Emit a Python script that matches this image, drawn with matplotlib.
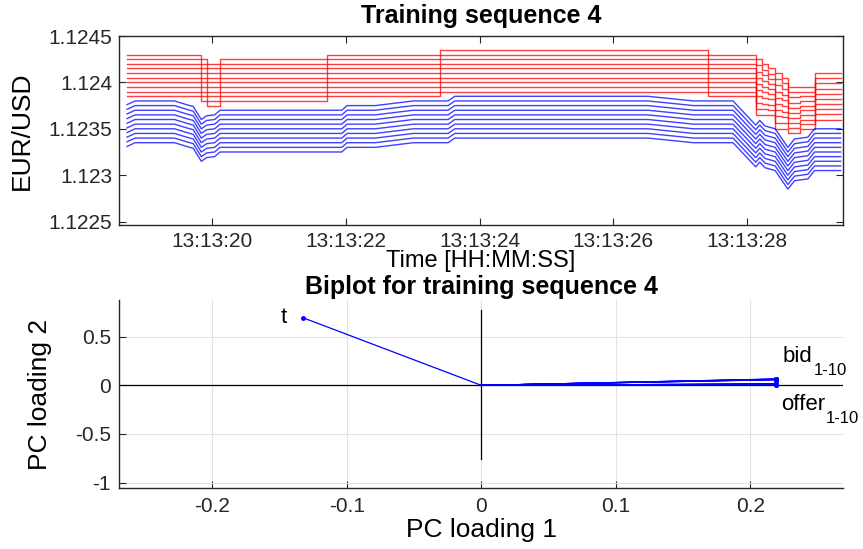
import numpy as np
import matplotlib
matplotlib.use('Agg')
import matplotlib.pyplot as plt

plt.rcParams['font.family'] = ['Liberation Sans', 'DejaVu Sans']
plt.rcParams['axes.unicode_minus'] = False

# ---------------- top panel data (time = seconds after 13:13:00) ----------------
offer_t = [18.73, 19.84, 19.93, 20.12, 21.72, 23.41, 27.41, 28.13, 28.22, 28.32,
           28.42, 28.52, 28.61, 28.79, 29.01, 29.40]
offer_best = [1.12385, 1.12380, 1.12375, 1.12380, 1.12385, 1.12390, 1.12385, 1.12365,
              1.12365, 1.12365, 1.12350, 1.12350, 1.12345, 1.12350, 1.12360, 1.12360]
offer_top = [1.12430, 1.12425, 1.12420, 1.12425, 1.12430, 1.12435, 1.12430, 1.12425,
             1.12420, 1.12415, 1.12410, 1.12405, 1.12395, 1.12395, 1.12410, 1.12410]

bid_t = [18.73, 18.85, 19.44, 19.62, 19.72, 19.84, 19.92, 20.04, 20.12, 21.94, 22.02,
         22.44, 23.01, 23.53, 23.63, 26.52, 27.20, 27.79, 28.13, 28.19, 28.27, 28.42,
         28.61, 28.71, 28.91, 29.01, 29.40]
bid_best = [1.12376, 1.12380, 1.12380, 1.12376, 1.12374, 1.12360, 1.12364, 1.12365,
            1.12370, 1.12370, 1.12375, 1.12375, 1.12380, 1.12380, 1.12385, 1.12385,
            1.12380, 1.12380, 1.12354, 1.12359, 1.12353, 1.12350, 1.12330, 1.12339,
            1.12341, 1.12350, 1.12350]
bid_level_offsets = [0.0, 0.00005, 0.00010, 0.00015, 0.00020, 0.00025, 0.00030,
                     0.00035, 0.00040, 0.00045]

time_ticks = [20, 22, 24, 26, 28]
time_labels = ['13:13:20', '13:13:22', '13:13:24', '13:13:26', '13:13:28']
price_ticks = [1.1225, 1.123, 1.1235, 1.124, 1.1245]
price_labels = ['1.1225', '1.123', '1.1235', '1.124', '1.1245']

# ---------------- biplot data ----------------
t_pc1, t_pc2 = -0.1327, 0.695
bid_pc1 = [0.2196, 0.2196, 0.2195, 0.2195, 0.2195, 0.2194, 0.2194, 0.2194, 0.2193, 0.2193]
bid_pc2 = [0.066, 0.065, 0.064, 0.063, 0.062, 0.061, 0.060, 0.059, 0.058, 0.057]
offer_pc1 = [0.2196, 0.2196, 0.2195, 0.2195, 0.2195, 0.2194, 0.2194, 0.2194, 0.2193, 0.2193]
offer_pc2 = [0.016, 0.015, 0.014, 0.013, 0.012, 0.011, 0.010, 0.009, 0.008, 0.007]
pc1_ticks = [-0.2, -0.1, 0, 0.1, 0.2]
pc1_labels = ['-0.2', '-0.1', '0', '0.1', '0.2']
pc2_ticks = [-1, -0.5, 0, 0.5]
pc2_labels = ['-1', '-0.5', '0', '0.5']

W, H = 863, 549
fig = plt.figure(figsize=(W / 100, H / 100), dpi=100)

def box(x0, y0, x1, y1):
    return [x0 / W, 1 - y1 / H, (x1 - x0) / W, (y1 - y0) / H]

spine_col = '#262626'
TICK_FS = 15
LAB_FS = 19
TITLE_FS = 18

# ---------------- top panel ----------------
ax1 = fig.add_axes(box(119.3, 36, 842.7, 225.3))
ob = np.array(offer_best)
ot = np.array(offer_top)
for i in range(10):
    vals = ob + (ot - ob) * i / 9.0
    ax1.plot(offer_t, vals, color=(1, 0, 0), lw=1.0, alpha=0.75, drawstyle='steps-post')
bb = np.array(bid_best)
for off in bid_level_offsets:
    ax1.plot(bid_t, bb - off, color=(0, 0, 1), lw=1.0, alpha=0.75)

ax1.set_xlim(18.614, 29.43)
ax1.set_ylim(1.12246, 1.1245)
ax1.set_xticks(time_ticks)
ax1.set_xticklabels(time_labels)
ax1.set_yticks(price_ticks)
ax1.set_yticklabels(price_labels)
ax1.tick_params(direction='in', length=5, width=0.8, colors=spine_col,
                labelsize=TICK_FS, top=True, right=True, pad=5)
for s in ax1.spines.values():
    s.set_color(spine_col)
    s.set_linewidth(1.0)
ax1.set_ylabel('EUR/USD', fontsize=LAB_FS)
ax1.yaxis.set_label_coords(-0.118, 0.5)
ax1.set_xlabel('Time [HH:MM:SS]', fontsize=17)
ax1.xaxis.set_label_coords(0.5, -0.128)
fig.text(481 / W, 1 - 16 / H, 'Training sequence 4', fontsize=TITLE_FS,
         fontweight='bold', ha='center', va='center')

# ---------------- biplot ----------------
ax2 = fig.add_axes(box(119.3, 300, 843.3, 488.3))
ax2.set_xlim(-0.2693, 0.2693)
ax2.set_ylim(-1.058, 0.877)
ax2.grid(True, color='#e3e3e3', lw=0.8)
ax2.set_axisbelow(True)
ax2.plot([-0.77, 0.77], [0, 0], color='k', lw=0.9)
ax2.plot([0, 0], [-0.76, 0.77], color='k', lw=0.9)

ax2.plot([0, t_pc1], [0, t_pc2], color=(0, 0, 1), lw=0.9)
ax2.plot([t_pc1], [t_pc2], 'o', color=(0, 0, 1), ms=2.5)
for x, y in zip(bid_pc1, bid_pc2):
    ax2.plot([0, x], [0, y], color=(0, 0, 1), lw=0.8)
    ax2.plot([x], [y], 'o', color=(0, 0, 1), ms=2.5)
for x, y in zip(offer_pc1, offer_pc2):
    ax2.plot([0, x], [0, y], color=(0, 0, 1), lw=0.8)
    ax2.plot([x], [y], 'o', color=(0, 0, 1), ms=2.5)

ax2.text(-0.145, 0.70, 't', fontsize=16, ha='right', va='center')
ax2.text(0.2240, 0.235, 'bid', fontsize=16, ha='left', va='baseline')
ax2.text(0.2475, 0.105, '1-10', fontsize=12, ha='left', va='baseline')
ax2.text(0.2232, -0.25, 'offer', fontsize=16, ha='left', va='baseline', clip_on=False)
ax2.text(0.2565, -0.385, '1-10', fontsize=12, ha='left', va='baseline', clip_on=False)

ax2.set_xticks(pc1_ticks)
ax2.set_xticklabels(pc1_labels)
ax2.set_yticks(pc2_ticks)
ax2.set_yticklabels(pc2_labels)
ax2.tick_params(direction='in', length=5, width=0.8, colors=spine_col,
                labelsize=TICK_FS, pad=6)
ax2.spines['top'].set_visible(False)
ax2.spines['right'].set_visible(False)
for s in ('left', 'bottom'):
    ax2.spines[s].set_color(spine_col)
    ax2.spines[s].set_linewidth(1.0)
ax2.set_xlabel('PC loading 1', fontsize=LAB_FS)
ax2.xaxis.set_label_coords(0.5, -0.158)
ax2.set_ylabel('PC loading 2', fontsize=LAB_FS)
ax2.yaxis.set_label_coords(-0.093, 0.5)
fig.text(481 / W, 1 - 287 / H, 'Biplot for training sequence 4', fontsize=TITLE_FS,
         fontweight='bold', ha='center', va='center')

fig.savefig('out.png', dpi=100)
